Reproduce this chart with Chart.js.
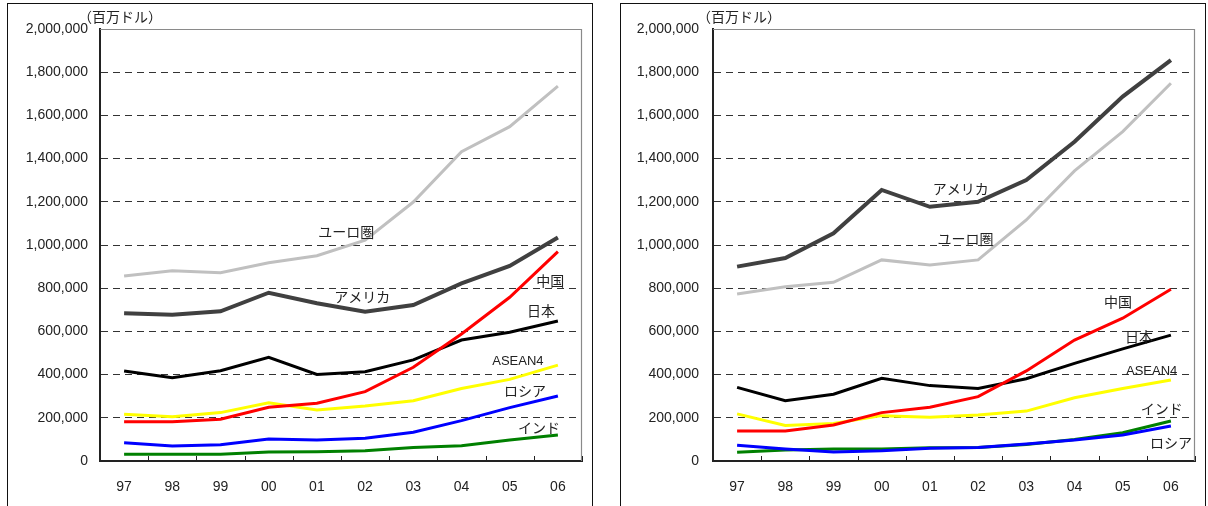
<!DOCTYPE html>
<html>
<head>
<meta charset="utf-8">
<script src="https://cdn.jsdelivr.net/npm/chart.js@4"></script>
<style>
  body { margin: 0; background: #fff; width: 1208px; height: 506px; overflow: hidden; position: relative; }
  .frame { position: absolute; top: 3px; height: 520px; border: 1.5px solid #111; box-sizing: border-box; }
  .box { position: absolute; top: 4px; width: 583px; height: 502px; }
  .unit { position: absolute; top: 6px; font: 14px "Noto Sans CJK JP", sans-serif; color: #222; }
</style>
</head>
<body>
<div class="frame" style="left:7px;width:586px"></div>
<div class="frame" style="left:620px;width:586px"></div>
<div class="box" style="left:8px"><canvas id="c1"></canvas></div>
<div class="box" style="left:621px"><canvas id="c2"></canvas></div>
<div class="unit" style="left:78px">（百万ドル）</div>
<div class="unit" style="left:697px">（百万ドル）</div>
<script>
var years = ["97", "98", "99", "00", "01", "02", "03", "04", "05", "06"];

// left panel (百万ドル)
var leftEuro = [856000, 881000, 872000, 918000, 950000, 1022000, 1199000, 1432000, 1548000, 1736000];
var leftUsa = [684000, 677000, 693000, 779000, 730000, 691000, 722000, 822000, 903000, 1035000];
var leftChina = [182000, 182000, 193000, 249000, 267000, 321000, 434000, 588000, 758000, 969000];
var leftJapan = [417000, 386000, 418000, 480000, 401000, 413000, 468000, 560000, 596000, 648000];
var leftAsean = [216000, 205000, 224000, 270000, 236000, 255000, 279000, 336000, 378000, 444000];
var leftRussia = [85000, 69000, 75000, 102000, 97000, 105000, 133000, 187000, 247000, 301000];
var leftIndia = [31000, 31000, 31000, 42000, 43000, 48000, 62000, 71000, 97000, 120000];

// right panel
var rightUsa = [900000, 940000, 1054000, 1255000, 1177000, 1200000, 1301000, 1478000, 1687000, 1856000];
var rightEuro = [773000, 807000, 827000, 931000, 907000, 931000, 1116000, 1343000, 1525000, 1749000];
var rightChina = [139000, 139000, 167000, 224000, 249000, 298000, 417000, 560000, 661000, 795000];
var rightJapan = [341000, 279000, 309000, 383000, 349000, 336000, 381000, 452000, 519000, 583000];
var rightAsean = [218000, 164000, 174000, 210000, 202000, 213000, 231000, 293000, 336000, 375000];
var rightRussia = [73000, 56000, 42000, 48000, 59000, 62000, 79000, 97000, 120000, 162000];
var rightIndia = [40000, 51000, 56000, 56000, 61000, 62000, 76000, 100000, 131000, 185000];

// series names placed in data units [text, category index, value]
var leftNotes = [
  ["ユーロ圏", 4.61, 1060000], ["アメリカ", 4.94, 759000], ["中国", 8.84, 833000],
  ["日本", 8.65, 694000], ["ASEAN4", 8.17, 463000], ["ロシア", 8.32, 324000], ["インド", 8.61, 153000]
];
var rightNotes = [
  ["アメリカ", 4.64, 1259000], ["ユーロ圏", 4.74, 1028000], ["中国", 7.9, 736000],
  ["日本", 8.34, 574000], ["ASEAN4", 8.6, 417000], ["インド", 8.81, 241000], ["ロシア", 9.0, 83000]
];

var frameDeco = {
  id: "frameDeco",
  afterDraw: function (chart) {
    var ctx = chart.ctx, a = chart.chartArea, xs = chart.scales.x, ys = chart.scales.y;
    ctx.save();
    // gray top and right border of plot area
    ctx.strokeStyle = "#8a8a8a";
    ctx.lineWidth = 1.2;
    ctx.beginPath();
    ctx.moveTo(a.left, a.top + 0.5);
    ctx.lineTo(a.right - 0.5, a.top + 0.5);
    ctx.lineTo(a.right - 0.5, a.bottom);
    ctx.stroke();
    // inward tick marks between years
    ctx.strokeStyle = "#222";
    ctx.lineWidth = 1;
    for (var i = 1; i <= years.length; i++) {
      var px = Math.round(xs.getPixelForValue(i - 0.5)) + 0.5;
      ctx.beginPath();
      ctx.moveTo(px, a.bottom);
      ctx.lineTo(px, a.bottom - 5);
      ctx.stroke();
    }
    // series names
    var notes = chart.options.plugins.frameDeco.notes;
    ctx.fillStyle = "#222";
    ctx.textAlign = "center";
    ctx.textBaseline = "middle";
    notes.forEach(function (n) {
      ctx.font = n[0] === "ASEAN4" ? "13px 'Liberation Sans', Arial, sans-serif" : "14px 'Noto Sans CJK JP', sans-serif";
      ctx.fillText(n[0], xs.getPixelForValue(n[1]), ys.getPixelForValue(n[2]));
    });
    ctx.restore();
  }
};

function line(label, data, color, width) {
  return {
    label: label,
    data: data,
    borderColor: color,
    backgroundColor: color,
    borderWidth: width,
    pointRadius: 0,
    tension: 0,
    fill: false
  };
}

function makeChart(id, sets, notes, labelGap) {
  var ctx = document.getElementById(id).getContext("2d");
  return new Chart(ctx, {
    type: "line",
    data: { labels: years, datasets: sets },
    options: {
      responsive: false,
      animation: false,
      layout: { padding: { top: 25, right: 9, bottom: 0, left: 0 } },
      plugins: { legend: { display: false }, tooltip: { enabled: false }, frameDeco: { notes: notes } },
      scales: {
        x: {
          offset: true,
          grid: { display: false, offset: true },
          border: { display: true, color: "#222", width: 2 },
          ticks: { color: "#222", padding: 10, font: { family: "'Liberation Sans', Arial, sans-serif", size: 14 } },
          afterFit: function (s) { s.height = 45; }
        },
        y: {
          min: 0,
          max: 2000000,
          ticks: {
            stepSize: 200000,
            padding: labelGap,
            color: "#222",
            font: { family: "'Liberation Sans', Arial, sans-serif", size: 14 },
            callback: function (v) { return v.toLocaleString("en-US"); }
          },
          grid: {
            drawTicks: false,
            lineWidth: 1,
            color: function (c) {
              return c.tick && (c.tick.value === 0 || c.tick.value === 2000000) ? "rgba(0,0,0,0)" : "#333";
            }
          },
          border: { display: true, color: "#222", width: 2, dash: [7, 5] },
          afterFit: function (s) { s.width = 92; }
        }
      }
    },
    plugins: [frameDeco]
  });
}

var c1 = document.getElementById("c1"); c1.width = 583; c1.height = 502;
var c2 = document.getElementById("c2"); c2.width = 583; c2.height = 502;

makeChart("c1", [
  line("中国", leftChina, "#ff0000", 3),
  line("日本", leftJapan, "#000000", 3),
  line("ASEAN4", leftAsean, "#ffff00", 3),
  line("ロシア", leftRussia, "#0000ff", 3),
  line("インド", leftIndia, "#008000", 3),
  line("アメリカ", leftUsa, "#404040", 4),
  line("ユーロ圏", leftEuro, "#c0c0c0", 3)
], leftNotes, 12);

makeChart("c2", [
  line("中国", rightChina, "#ff0000", 3),
  line("日本", rightJapan, "#000000", 3),
  line("ASEAN4", rightAsean, "#ffff00", 3),
  line("ロシア", rightRussia, "#0000ff", 3),
  line("インド", rightIndia, "#008000", 3),
  line("アメリカ", rightUsa, "#404040", 4),
  line("ユーロ圏", rightEuro, "#c0c0c0", 3)
], rightNotes, 14);
</script>
</body>
</html>
